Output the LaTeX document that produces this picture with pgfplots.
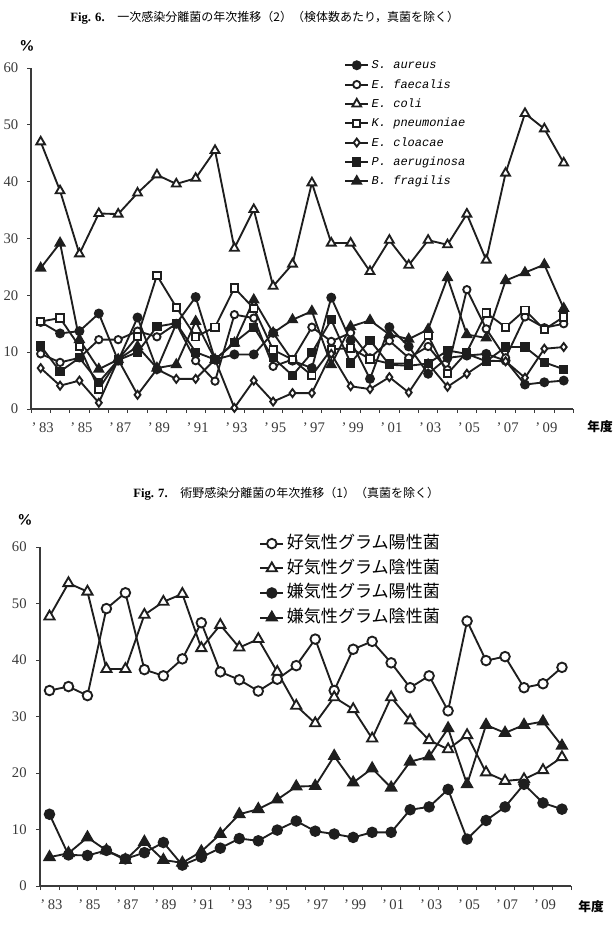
\documentclass[border=0pt]{standalone}
\usepackage{pgfplots}
\pgfplotsset{compat=1.18}
\usepackage{pgfplotstable}
\usepackage{fontspec}
\setmainfont{Liberation Serif}
\newfontfamily\cjk{Noto Sans CJK JP}
\newfontfamily\legmono{Liberation Mono}

\definecolor{axisgray}{HTML}{3A3A3A}
\definecolor{linecol}{HTML}{1E1E1E}

% Fig. 6: isolation rate per specimen, primary infection
\pgfplotstableread{
year  Sa    Ef    Ec    Kp    Ecl   Pa    Bf
1983  15.3  9.7   47.0  15.4  7.2   11.1  24.8
1984  13.3  8.2   38.4  16.0  4.1   6.6   29.2
1985  13.7  9.0   27.3  11.0  5.0   9.0   12.2
1986  16.8  12.2  34.4  3.5   1.1   4.7   7.0
1987  8.5   12.2  34.3  8.7   8.7   8.6   8.7
1988  16.1  13.7  38.0  12.8  2.5   10.0  11.0
1989  7.0   12.7  41.2  23.5  7.0   14.5  7.2
1990  15.0  15.0  39.6  17.9  5.3   15.1  7.8
1991  19.7  8.5   40.6  12.7  5.3   10.0  15.4
1992  8.7   4.9   45.5  14.4  8.7   8.7   8.7
1993  9.6   16.6  28.3  21.3  0.2   11.7  11.6
1994  9.6   16.0  35.1  17.7  5.0   14.4  19.2
1995  13.4  7.5   21.6  10.4  1.3   9.0   13.4
1996  8.5   8.7   25.5  8.7   2.8   5.9   15.7
1997  7.2   14.4  39.8  5.9   2.8   9.9   17.2
1998  19.6  11.9  29.2  10.5  9.7   15.7  7.8
1999  12.0  13.4  29.2  10.7  4.0   8.1   14.5
2000  5.3   9.0   24.2  8.8   3.5   12.1  15.6
2001  14.4  12.0  29.7  8.0   5.6   7.8   13.1
2002  11.0  9.0   25.3  8.0   2.9   7.6   12.3
2003  6.2   11.0  29.7  12.9  8.0   8.0   14.0
2004  9.0   6.9   28.9  6.2   3.9   10.3  23.1
2005  9.4   21.0  34.3  10.0  6.2   9.7   13.1
2006  9.7   14.1  26.2  16.9  8.5   8.4   12.5
2007  8.5   9.0   41.5  14.4  8.4   10.9  22.6
2008  4.3   16.2  52.0  17.4  5.5   10.9  24.0
2009  4.7   14.3  49.3  14.0  10.6  8.2   25.4
2010  5.0   15.0  43.3  16.2  10.9  7.0   17.7
}\figsix

% Fig. 7: surgical site infection isolates
\pgfplotstableread{
year  AGP   AGN   NGP   NGN
1983  34.6  47.7  12.7  5.1
1984  35.3  53.6  5.5   5.8
1985  33.7  52.1  5.4   8.6
1986  49.1  38.4  6.3   6.3
1987  51.9  38.4  4.8   4.6
1988  38.3  48.0  5.9   7.8
1989  37.2  50.3  7.7   4.6
1990  40.2  51.7  3.7   4.1
1991  46.6  42.1  5.1   6.1
1992  37.9  46.2  6.7   9.2
1993  36.5  42.2  8.4   12.7
1994  34.5  43.7  8.0   13.6
1995  36.6  37.9  9.9   15.3
1996  39.0  31.9  11.5  17.6
1997  43.7  28.8  9.7   17.7
1998  34.6  33.4  9.2   23.0
1999  41.9  31.3  8.6   18.3
2000  43.3  26.1  9.5   20.8
2001  39.5  33.4  9.5   17.4
2002  35.1  29.3  13.5  22.0
2003  37.2  25.8  14.0  22.9
2004  31.0  24.2  17.1  27.9
2005  46.9  26.7  8.3   18.0
2006  39.9  20.1  11.6  28.5
2007  40.6  18.6  14.0  27.1
2008  35.1  18.9  18.0  28.5
2009  35.8  20.5  14.7  29.1
2010  38.7  22.8  13.6  24.8
}\figseven

\pgfplotsset{
  yearchart/.style={
    scale only axis, clip=false,
    axis lines=left,
    axis line style={-, draw=axisgray, line width=0.8pt},
    xmin=1982.5, xmax=2010.5, ymin=0, ymax=60,
    ytick={0,10,20,30,40,50,60},
    xtick={1982.5,1983.5,...,2010.5},
    xticklabels={},
    extra x ticks={1983,1985,1987,1989,1991,1993,1995,1997,1999,2001,2003,2005,2007,2009},
    extra x tick labels={’\,83,’\,85,’\,87,’\,89,’\,91,’\,93,’\,95,’\,97,’\,99,’\,01,’\,03,’\,05,’\,07,’\,09},
    extra x tick style={major tick length=0pt},
    tick align=outside, major tick length=3pt,
    tick style={draw=axisgray, line width=0.7pt},
    /pgf/number format/assume math mode=true,
    ticklabel style={font=\fontsize{11}{13}\selectfont, text=axisgray},
    legend cell align=left,
  },
  ser/.style={line width=1.4pt, draw=linecol,
    mark options={solid, line width=0.65pt, draw=linecol}},
}

\begin{document}
\begin{tikzpicture}
\path[use as bounding box] (0pt,0pt) rectangle (461.25pt,702pt);

% ---------- Fig. 6 ----------
\node[anchor=west, inner sep=0pt] at (52.5pt,688.5pt)
  {\fontsize{9.5}{11}\selectfont\textbf{Fig. 6.}\hspace{1em}{\cjk\fontsize{9}{11}\selectfont 一次感染分離菌の年次推移（2）（検体数あたり，真菌を除く）}};
\node[inner sep=0pt] at (20.25pt,667.5pt) {\sffamily\bfseries\fontsize{10}{12}\selectfont\%};
\node[inner sep=0pt] at (450pt,381.75pt) {\cjk\bfseries\fontsize{9.5}{11}\selectfont 年度};

\begin{axis}[yearchart,
  at={(23.25pt,395.25pt)}, anchor=south west,
  width=406.8pt, height=255.75pt,
  xticklabel style={yshift=-6.5pt, xshift=1.5pt},
  yticklabel style={xshift=-3pt},
  legend style={at={(0.57,1.045)}, anchor=north west, draw=none, fill=none,
    font=\legmono\itshape\fontsize{9}{10}\selectfont, row sep=0pt,
    nodes={text height=8.5pt, text depth=3pt, inner ysep=1.5pt}},
]
\addplot[ser, mark=*, mark size=3pt, mark options={fill=linecol}] table[x=year,y=Sa] {\figsix};
\addlegendentry{S. aureus}
\addplot[ser, mark=*, mark size=2.75pt, mark options={fill=white}] table[x=year,y=Ef] {\figsix};
\addlegendentry{E. faecalis}
\addplot[ser, mark=triangle*, mark size=3.8pt, mark options={fill=white}] table[x=year,y=Ec] {\figsix};
\addlegendentry{E. coli}
\addplot[ser, mark=square*, mark size=2.75pt, mark options={fill=white}] table[x=year,y=Kp] {\figsix};
\addlegendentry{K. pneumoniae}
\addplot[ser, mark=diamond*, mark size=3pt, mark options={fill=white}] table[x=year,y=Ecl] {\figsix};
\addlegendentry{E. cloacae}
\addplot[ser, mark=square*, mark size=2.75pt, mark options={fill=linecol}] table[x=year,y=Pa] {\figsix};
\addlegendentry{P. aeruginosa}
\addplot[ser, mark=triangle*, mark size=3.8pt, mark options={fill=linecol}] table[x=year,y=Bf] {\figsix};
\addlegendentry{B. fragilis}
\end{axis}

% ---------- Fig. 7 ----------
\node[anchor=west, inner sep=0pt] at (99.75pt,331.5pt)
  {\fontsize{9.5}{11}\selectfont\textbf{Fig. 7.}\hspace{1em}{\cjk\fontsize{9}{11}\selectfont 術野感染分離菌の年次推移（1）（真菌を除く）}};
\node[inner sep=0pt] at (18.75pt,312pt) {\sffamily\bfseries\fontsize{10}{12}\selectfont\%};
\node[inner sep=0pt] at (443.25pt,21.75pt) {\cjk\bfseries\fontsize{9.5}{11}\selectfont 年度};

\begin{axis}[yearchart,
  at={(30pt,37.5pt)}, anchor=south west,
  width=398.6pt, height=254.25pt,
  xticklabel style={yshift=-7pt, xshift=1.5pt},
  yticklabel style={xshift=-3.5pt},
  legend style={at={(0.405,1.055)}, anchor=north west, draw=none, fill=none,
    font=\cjk\fontsize{12.8}{14}\selectfont, row sep=0pt,
    nodes={text height=11pt, text depth=3.5pt, inner ysep=2pt}},
]
\addplot[ser, mark=*, mark size=3.6pt, mark options={fill=white}] table[x=year,y=AGP] {\figseven};
\addlegendentry{好気性グラム陽性菌}
\addplot[ser, mark=triangle*, mark size=4.4pt, mark options={fill=white}] table[x=year,y=AGN] {\figseven};
\addlegendentry{好気性グラム陰性菌}
\addplot[ser, mark=*, mark size=3.6pt, mark options={fill=linecol}] table[x=year,y=NGP] {\figseven};
\addlegendentry{嫌気性グラム陽性菌}
\addplot[ser, mark=triangle*, mark size=4.4pt, mark options={fill=linecol}] table[x=year,y=NGN] {\figseven};
\addlegendentry{嫌気性グラム陰性菌}
\end{axis}
\end{tikzpicture}
\end{document}
